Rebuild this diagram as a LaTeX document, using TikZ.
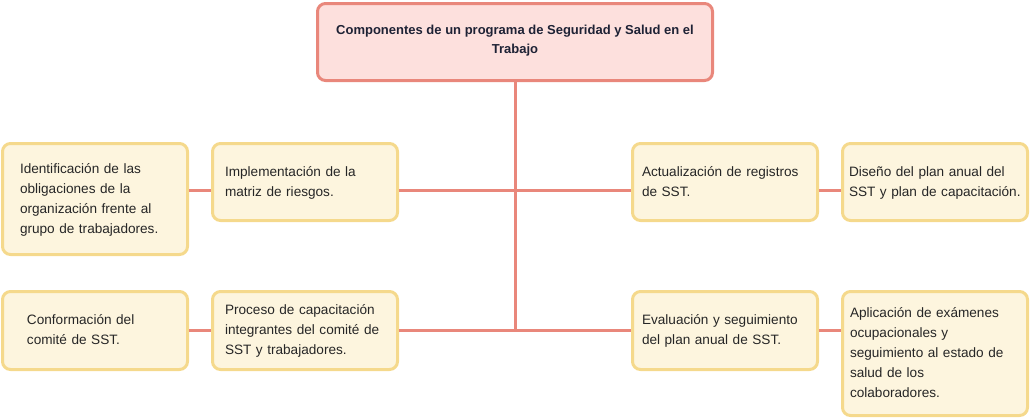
\documentclass[tikz,border=0pt]{standalone}
\usepackage{fontspec}
\setmainfont{Liberation Sans}
\definecolor{salmon}{HTML}{E9877B}
\definecolor{pinkfill}{HTML}{FDE0DD}
\definecolor{sand}{HTML}{F5D98C}
\definecolor{cream}{HTML}{FDF5DE}
\definecolor{ink}{HTML}{262626}
\definecolor{navy}{HTML}{1E2235}
\tikzset{
	card/.style={draw=sand, fill=cream, line width=3pt, rounded corners=8pt, minimum width=185pt, inner sep=0pt, text width=#1, align=left, text=ink, font=\fontsize{13.6}{20}\selectfont, execute at begin node=\strut, execute at end node=\strut},
	card/.default=160pt,
	head/.style={draw=salmon, fill=pinkfill, line width=3pt, rounded corners=8pt, minimum width=395pt, minimum height=77pt, inner sep=0pt, align=center, text=navy, font=\bfseries\fontsize{13}{19}\selectfont, execute at begin node=\strut, execute at end node=\strut},
	link/.style={salmon, line width=3pt}
}
\begin{document}
\begin{tikzpicture}[x=1pt,y=-1pt]
	\useasboundingbox (0,0) rectangle (1030,418);
%		top
	\node[head] (titulo) at (515,42) {Componentes de un programa de Seguridad y Salud en el\\Trabajo};
	\coordinate (rowa) at (515,190);
	\coordinate (rowb) at (515,330);
%		left
	\node[card=150pt, minimum height=111pt] (ident) at (95,199) {Identificación de las\\obligaciones de la\\organización frente al\\grupo de trabajadores.};
	\node[card, minimum height=77pt] (matriz) at (305,182) {Implementación de la\\matriz de riesgos.};
	\node[card=136pt, minimum height=78pt] (comite) at (95,330.5) {Conformación del\\comité de SST.};
	\node[card, minimum height=78pt] (proceso) at (305,330.5) {Proceso de capacitación\\integrantes del comité de\\SST y trabajadores.};
%		right
	\node[card=166pt, minimum height=77pt] (registros) at (725,182) {Actualización de registros\\de SST.};
	\node[card=172pt, minimum height=77pt] (diseno) at (935,182) {Diseño del plan anual del\\SST y plan de capacitación.};
	\node[card=166pt, minimum height=78pt] (evaluacion) at (725,330.5) {Evaluación y seguimiento\\del plan anual de SST.};
	\node[card=170pt, minimum height=124pt] (examenes) at (935,353.5) {Aplicación de exámenes\\ocupacionales y\\seguimiento al estado de\\salud de los\\colaboradores.};
%		links
	\draw[link] (titulo.south) -- (rowb);
	\draw[link] (ident.east |- rowa) -- (matriz.west |- rowa);
	\draw[link] (matriz.east |- rowa) -- (registros.west |- rowa);
	\draw[link] (registros.east |- rowa) -- (diseno.west |- rowa);
	\draw[link] (comite.east |- rowb) -- (proceso.west |- rowb);
	\draw[link] (proceso.east |- rowb) -- (evaluacion.west |- rowb);
	\draw[link] (evaluacion.east |- rowb) -- (examenes.west |- rowb);
\end{tikzpicture}
\end{document}
